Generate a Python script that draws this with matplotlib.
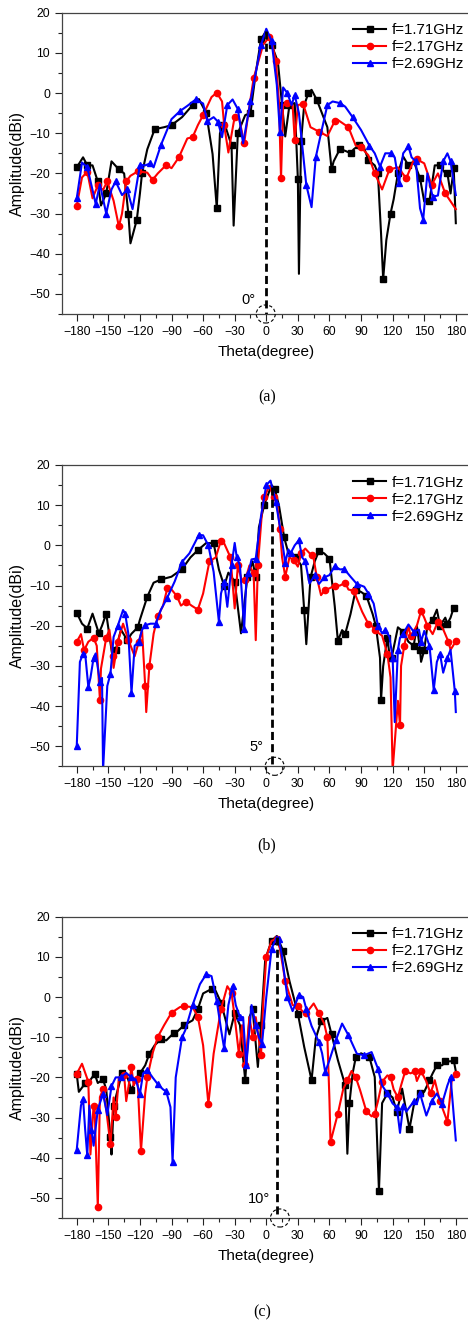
import matplotlib
matplotlib.use("Agg")
import matplotlib.pyplot as plt
from matplotlib.ticker import MultipleLocator
from matplotlib.patches import Ellipse

plt.rcParams['font.family'] = ['Liberation Sans', 'DejaVu Sans']

LABELS = ["f=1.71GHz", "f=2.17GHz", "f=2.69GHz"]
CAPTIONS = ["(a)", "(b)", "(c)"]
STEER = [0, 5, 10]
STEER_TEXT = ["0°", "5°", "10°"]

# ---------- panel (a) ----------
a_theta_171 = [-180,-174,-170,-165,-160,-157,-152,-147,-140,-135,-131,-129,-123,-120,-118,-113,-106,-97,-90,-80,-70,-64,-57,-51,-47,-44,-41,-38,-33,-31,-27,-20,-15,-10,-5,0,5,11,15,18,22,27,30,31,33,36,40,43,48,58,62,64,70,76,80,83,88,92,97,103,106,109,111,114,118,121,125,130,135,140,146,150,155,160,165,170,172,175,178,180]
a_amp_171 = [-18.5,-16,-18,-18,-22,-28,-25,-17,-19,-20,-30,-37.4,-31.6,-25,-20,-14,-9,-8.5,-8,-6,-3,-1.5,-5,-15.2,-28.7,-10,-8,-9,-13,-33,-10,-5.5,-5,5,13.4,15.5,12,7.8,-3,-10.8,-3,-2.5,-21.5,-45,-12,-3,0,0.8,-1.7,-8.5,-19,-17,-13.9,-14.5,-15,-14,-13,-13,-16.7,-18,-20,-35,-46.3,-36.6,-30,-26.4,-20,-15.8,-18,-17,-21.2,-27,-26.8,-18,-18,-20,-20,-25,-18.7,-32.4]

a_theta_217 = [-180,-175,-170,-165,-160,-155,-151,-145,-140,-137,-133,-129,-122,-113,-108,-103,-95,-90,-83,-75,-70,-65,-60,-52,-47,-42,-40,-36,-30,-26,-21,-17,-12,-3,3,5,9,12,14,16,20,25,27,30,35,42,50,58,65,68,78,85,90,97,103,110,117,125,133,140,143,150,157,163,170,180]
a_amp_217 = [-28.1,-21,-19.6,-26.2,-23,-24.1,-22,-26.8,-33.2,-30,-22,-20.6,-19.5,-19.8,-21.6,-20,-17.9,-18.7,-16,-11.3,-11,-8,-5.5,-1,0.1,-2.1,-8,-14.8,-5.9,-6,-12.5,-5,3.7,12,14,13.2,8,-2,-21.2,-3,-2.5,-3,-11.7,-3,-2.7,-8.5,-9.6,-10.7,-7,-6.7,-8.5,-13.1,-13.5,-15.5,-20,-24,-19,-18.5,-21.2,-16.7,-16.5,-17.5,-22.9,-20,-25,-28.9]

a_theta_269 = [-180,-175,-170,-166,-162,-158,-152,-147,-143,-137,-132,-127,-120,-115,-110,-107,-100,-90,-82,-75,-67,-60,-56,-50,-46,-42,-37,-32,-27,-22,-15,-10,-5,0,5,10,13,16,20,24,27,31,38,43,47,53,58,63,70,75,82,90,98,103,108,113,118,122,126,130,135,138,142,146,149,153,158,163,168,172,175,180]
a_amp_269 = [-26.2,-17.3,-18.5,-23,-27.6,-22.7,-30,-24,-22,-25.4,-24,-28.9,-17.9,-18,-17.5,-18.5,-12.9,-6.5,-4.5,-3.2,-1.6,-2.6,-7,-6,-7.1,-11,-3,-1.6,-4,-12.5,-2.1,5,12,16,13,2,-9.8,1.4,0,-3,-0.5,-5,-22.9,-28.4,-16,-8.8,-3,-2.1,-2.5,-3.4,-6,-9.2,-13.1,-15,-18.3,-15,-15,-16,-22.5,-15,-13.3,-16,-17,-28.7,-31.5,-20,-25.8,-25.5,-17,-15,-17,-25.4]

# ---------- panel (b) ----------
b_theta_171 = [-180,-175,-170,-165,-159,-156,-152,-146,-143,-138,-132,-128,-122,-120,-113,-107,-100,-90,-80,-72,-65,-57,-50,-45,-40,-36,-30,-24,-18,-13,-10,-7,-2,5,8,12,17,21,28,33,36,38,42,46,50,55,60,65,68,72,75,80,85,90,95,101,104,108,109,111,115,117,119,125,130,135,140,143,146,147,150,153,158,162,165,170,172,175,178]
b_amp_171 = [-16.8,-19.5,-20.7,-17,-21.9,-20,-17,-27.8,-26,-21,-23.6,-22,-20.4,-18.5,-12.8,-9.3,-8.5,-7.8,-5.9,-3,-1.2,0.6,0.5,-6,-10.1,-6.8,-9,-21.9,-8,-4,-8,4.5,10,15,14,10,2,-2,-3,-4.9,-16.1,-24.6,-8,-4,-1.4,-2,-3.3,-15.1,-23.8,-21.1,-22,-17.1,-11,-11.6,-12.5,-17.1,-20,-28,-38.4,-30.1,-23,-27.3,-28,-20.4,-21.5,-24,-25,-20,-26,-29,-26.1,-20,-18.5,-16,-20,-18,-19.5,-18,-15.5]

b_theta_217 = [-180,-176,-173,-169,-164,-161,-158,-157,-152,-149,-146,-145,-141,-136,-131,-125,-121,-118,-115,-114,-111,-107,-103,-98,-94,-90,-85,-81,-76,-71,-65,-60,-54,-48,-43,-40,-34,-30,-27,-23,-20,-16,-12,-10,-8,-4,-2,3,7,10,13,15,18,22,26,30,33,37,43,45,48,52,56,60,65,70,75,78,83,91,97,100,103,110,115,118,120,125,127,128,131,135,137,143,147,150,153,158,163,168,173,175,180]
b_amp_217 = [-24,-22.1,-26.1,-24,-23,-25,-38.4,-30.7,-23,-21,-27.6,-30.5,-24,-19.5,-23.5,-27.6,-24,-21,-35,-41.5,-30,-22,-17.6,-15,-10.7,-11,-12.6,-15,-14,-15,-16,-12,-4,-3,1.2,0.5,-3,-15.7,-5,-9,-8.7,-5,-7,-23.6,-5,8.6,12,14.8,12,11,4,-3,-7.8,-3,-3.7,-5.3,-2,-0.8,-2.5,-3.3,-8,-12.4,-11,-10.7,-10,-10,-9.3,-11,-11.3,-16.5,-19.6,-20,-21.1,-22.5,-27,-32.9,-56,-38.7,-44.8,-30,-25,-20,-22.6,-20,-16.3,-18,-20,-22.1,-19,-20.9,-24,-26,-23.9]

b_theta_269 = [-180,-177,-174,-172,-169,-167,-164,-162,-158,-156,-155,-151,-148,-145,-141,-136,-134,-131,-128,-125,-121,-118,-115,-110,-105,-100,-94,-87,-80,-73,-64,-60,-55,-50,-45,-43,-40,-37,-33,-30,-28,-25,-21,-19,-17,-14,-10,-5,0,4,9,14,18,21,23,27,31,34,37,41,46,50,55,60,65,70,74,80,86,93,97,102,106,110,113,117,120,122,125,127,130,135,140,145,147,150,155,158,159,162,165,168,172,175,179,180]
b_amp_269 = [-50,-29,-27,-27,-35.2,-33,-28,-26.9,-34,-33,-56,-35,-32,-22.8,-20,-16.1,-17,-22,-36.7,-25,-24,-21,-19.9,-19.5,-19.5,-16,-13,-9,-4.1,-2,2.6,2.5,0,-6.6,-19,-12,-9,-15.3,-5,0.6,-3,-5,-20.7,-9,-7,-3.5,-3.3,7.3,15,16.1,10.9,3,-4.3,-1,-2,0,1.3,-3,-3.9,-9.5,-7.5,-9.6,-8,-7.4,-5.2,-6,-5.9,-7.8,-9.6,-10.3,-12,-14.5,-20,-21.9,-21,-22.8,-28,-44,-26,-23,-22,-19.7,-21.5,-21,-24,-21.3,-25,-33.2,-36,-29,-27,-31.7,-28,-26,-36.2,-41.5]

# ---------- panel (c) ----------
c_theta_171 = [-180,-178,-172,-168,-163,-160,-155,-152,-148,-147,-145,-141,-137,-133,-128,-123,-120,-115,-111,-106,-100,-95,-88,-85,-78,-70,-65,-60,-52,-48,-43,-35,-30,-25,-20,-16,-13,-8,-5,-1,5,10,16,22,30,36,43,47,52,58,62,68,75,77,79,82,85,90,98,103,107,110,115,120,124,129,136,140,146,150,155,158,162,167,170,175,178,180]
c_amp_171 = [-19.2,-23.6,-21.5,-21,-19.1,-21.4,-20.5,-23,-34.9,-39.2,-27,-23,-18.9,-19,-23.2,-20,-19,-17,-14.1,-12,-10.5,-10.8,-9,-8.7,-7,-5.8,-3,0.9,2,1.5,-1.4,-9.3,-4,-7,-20.7,-5,-3,-17.4,-7,9.4,14,15.2,11.5,4,-4.1,-12.4,-20.7,-10.3,-6,-5.2,-9.3,-15.7,-22,-39,-26.4,-19,-15,-14,-15,-19.9,-48.2,-26.4,-24,-25,-28.6,-22.8,-32.8,-27,-24,-23.6,-20.7,-19,-17,-17,-16,-16,-15.7,-18.5]

c_theta_217 = [-180,-175,-169,-167,-164,-163,-160,-158,-155,-152,-148,-145,-143,-140,-135,-133,-128,-126,-123,-122,-119,-115,-113,-108,-103,-97,-90,-82,-78,-70,-65,-60,-55,-50,-43,-37,-33,-30,-26,-23,-20,-16,-13,-10,-5,-3,0,5,10,13,18,25,30,35,38,45,50,55,58,60,61,65,68,73,77,81,85,89,95,100,103,106,110,115,118,121,125,128,132,137,141,143,147,152,156,160,165,171,172,176,180]
c_amp_217 = [-19.1,-16.6,-21.1,-39.2,-27,-28,-52.3,-24.9,-23,-28,-36.7,-25,-29.9,-20,-19.5,-25.9,-17.5,-22,-20.5,-22,-38.3,-24,-20,-14,-9.9,-7,-3.9,-2.5,-2.3,-2.5,-4.9,-12,-26.6,-14.1,-3,2.7,1,-5,-14.2,-7,-17,-5,-10,-5,-14.5,-2,10,14,14.5,12,4,-2,-2.3,-3.7,-4,-1.6,-4,-6.6,-10,-25.7,-36.1,-32,-29,-23,-20.7,-18.4,-20,-23.1,-28.4,-29.7,-29,-26,-21.1,-19.5,-19.9,-23,-25,-22,-18.4,-19,-18.5,-20.9,-18.5,-21,-24,-20.7,-26,-30.3,-31,-21,-19.2]

c_theta_269 = [-180,-176,-174,-172,-170,-168,-166,-164,-160,-158,-155,-151,-147,-143,-138,-133,-128,-124,-120,-117,-113,-108,-103,-98,-95,-91,-89,-86,-80,-77,-70,-63,-57,-52,-47,-43,-40,-36,-32,-29,-25,-22,-19,-14,-10,-7,-4,0,5,10,12,15,20,25,31,35,38,43,50,53,56,60,66,72,78,86,93,100,106,110,115,120,124,127,130,133,140,143,146,152,157,162,167,172,175,180]
c_amp_269 = [-38,-27,-25.3,-33,-39.4,-27,-33,-37,-28,-26.4,-24.1,-29.4,-22.2,-20,-20,-18.9,-20,-20.5,-24.1,-19,-18.1,-20,-21.7,-23,-23.5,-27.4,-41.1,-20,-10,-8.3,-2,3.2,5.7,5.2,-1,-8,-12.8,-2,2.7,-2,-5,-5,-17,-2,-7,-10,-11.6,0,12,15,14.5,10,0,-3.5,0.5,0,-3,-7.2,-11.2,-14,-18.7,-15.7,-10.8,-6.6,-9.5,-14.1,-14.5,-13.7,-17.8,-22,-24,-26.5,-27.4,-33.8,-27,-28.5,-26,-26.5,-24,-29.5,-26,-24,-26.5,-22,-19.9,-35.7]

PANELS = [
    [(a_theta_171, a_amp_171), (a_theta_217, a_amp_217), (a_theta_269, a_amp_269)],
    [(b_theta_171, b_amp_171), (b_theta_217, b_amp_217), (b_theta_269, b_amp_269)],
    [(c_theta_171, c_amp_171), (c_theta_217, c_amp_217), (c_theta_269, c_amp_269)],
]
for p in PANELS:
    for t, v in p:
        assert len(t) == len(v), (len(t), len(v))

COLORS = ['black', '#ff0000', '#0000ff']
MARKERS = ['s', 'o', '^']
DASH_TOP = [15.5, 14.5, 15.0]
STEER_TXT_POS = [(-17, -51.5), (-9.7, -50.3), (-7, -50.2)]

W, H = 468, 1322
fig = plt.figure(figsize=(W / 100, H / 100), dpi=100)

axes_tops = [12.7, 465, 916.7]
axes_h = 301.3
left_px = 62
xmin, xmax = -194, 194
px_per_deg = 1.053
width_px = (xmax - xmin) * px_per_deg
caption_y = [397, 845, 1312]
caption_x = [267, 267, 262]

for i, panel in enumerate(PANELS):
    top = axes_tops[i]
    ax = fig.add_axes([left_px / W, 1 - (top + axes_h) / H, width_px / W, axes_h / H])
    handles = []
    for (t, v), c, m, lab in zip(panel, COLORS, MARKERS, LABELS):
        h, = ax.plot(t, v, color=c, lw=1.5, marker=m, markersize=4.5,
                     markevery=2, label=lab)
        handles.append(h)
    ax.set_xlim(xmin, xmax)
    ax.set_ylim(-55, 20)
    ax.xaxis.set_major_locator(MultipleLocator(30))
    ax.xaxis.set_minor_locator(MultipleLocator(15))
    ax.yaxis.set_major_locator(MultipleLocator(10))
    ax.yaxis.set_minor_locator(MultipleLocator(5))
    ax.tick_params(which='major', direction='out', length=5, width=0.8,
                   labelsize=8.8, pad=3.5, colors='#222222')
    ax.tick_params(which='minor', direction='out', length=3, width=0.8,
                   colors='#222222')
    ax.tick_params(axis='both', labelcolor='black')
    for s in ax.spines.values():
        s.set_color('#444444')
        s.set_linewidth(0.9)
    ax.set_xlabel("Theta(degree)", fontsize=11, labelpad=5)
    ax.set_ylabel("Amplitude(dBi)", fontsize=11.5, labelpad=3)
    # steering line
    x0 = STEER[i]
    ax.plot([x0, x0], [DASH_TOP[i], -55], color='black', lw=2,
            linestyle=(0, (2.9, 1.5)), zorder=5)
    ax.add_patch(Ellipse((x0 + (-0.5 if i == 0 else 3), -55), 18, 4.5, fill=False,
                         edgecolor='black', lw=0.8, linestyle=(0, (3, 2)),
                         clip_on=False, zorder=6))
    tx, ty = STEER_TXT_POS[i]
    ax.text(tx, ty, STEER_TEXT[i], fontsize=10.5, ha='center', va='center')
    ax.legend(handles=handles, loc='upper left',
              bbox_to_anchor=((353 - left_px) / width_px, 0.965),
              frameon=False, fontsize=10.8, handlelength=2.2,
              handletextpad=0.35, labelspacing=0.2, borderpad=0,
              borderaxespad=0)
    fig.text(caption_x[i] / W, 1 - caption_y[i] / H, CAPTIONS[i],
             family=['Liberation Serif', 'DejaVu Serif'], fontsize=11.5,
             ha='center', va='center')

fig.savefig("out.png", dpi=100)
